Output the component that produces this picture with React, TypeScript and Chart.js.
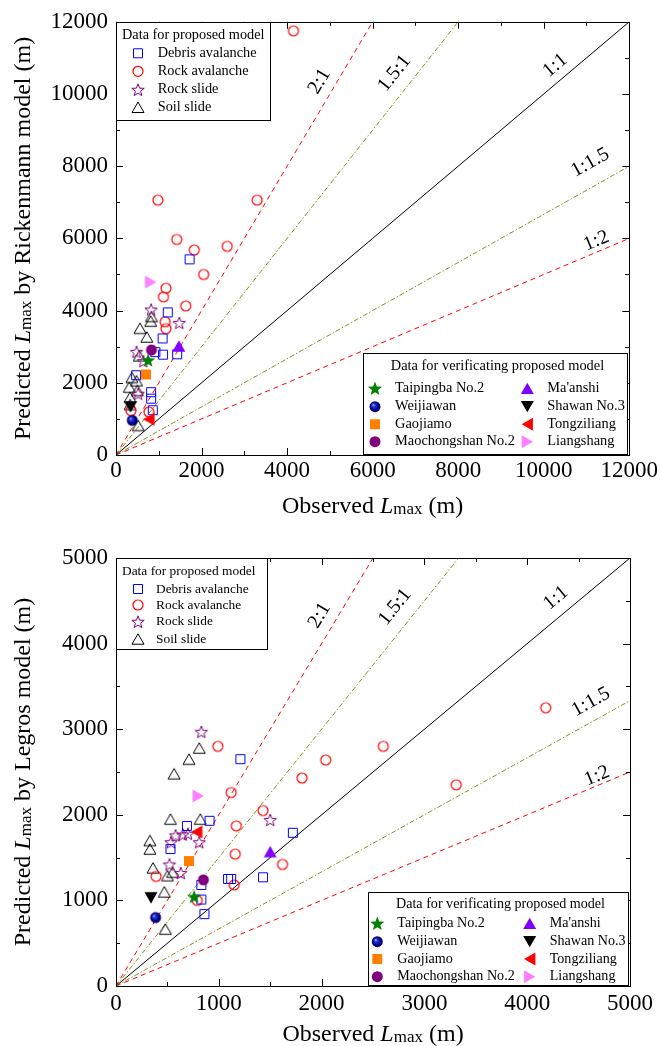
import React, { useEffect, useRef } from "react";
import { Chart, registerables } from "chart.js";

Chart.register(...registerables);

const FONT = "'Liberation Serif', 'Times New Roman', Times, serif";

type Pt = [number, number];

// ---------- names ----------
const proposedNames = ["Debris avalanche", "Rock avalanche", "Rock slide", "Soil slide"];
const verifyNames = [
  "Taipingba No.2",
  "Weijiawan",
  "Gaojiamo",
  "Maochongshan No.2",
  "Ma'anshi",
  "Shawan No.3",
  "Tongziliang",
  "Liangshang",
];
const ratioNames = ["2:1", "1.5:1", "1:1", "1:1.5", "1:2"];

// ---------- Rickenmann model (top chart) ----------
const rickAxisMax = 12000;
const rickTickStep = 2000;
const rickMinorStep = 1000;
const rickDebris: Pt[] = [
  [1720, 5420], [1210, 3950], [1090, 3230], [1100, 2780], [1430, 2790], [920, 2850],
  [820, 1740], [820, 1560], [860, 1240], [470, 2210],
];
const rickRockAval: Pt[] = [
  [4150, 11750], [980, 7060], [3300, 7060], [1420, 5970], [1830, 5680], [2600, 5780],
  [2050, 5000], [1170, 4620], [1110, 4380], [1630, 4130], [1150, 3690], [1170, 3500],
  [770, 1190], [350, 1230],
];
const rickRockSlide: Pt[] = [[820, 4030], [1480, 3660], [480, 2860], [640, 2600], [520, 1700]];
const rickSoilSlide: Pt[] = [
  [830, 3840], [810, 3710], [560, 3510], [720, 3270], [545, 2750], [370, 2150],
  [480, 2060], [310, 1880], [500, 1790], [330, 1600], [330, 1400], [520, 820],
];
// same order as verifyNames
const rickVerify: Pt[] = [
  [750, 2630], [380, 960], [700, 2230], [830, 2910], [1470, 3020], [340, 1330], [770, 990], [810, 4790],
];
const rickRatioEndX = [6000, 8000, 12000, 12000, 12000];
const rickRatioEndY = [12000, 12000, 12000, 8000, 6000];
const rickRatioLabelX = [4760, 6510, 10270, 11090, 11230];
const rickRatioLabelY = [10350, 10570, 10790, 8100, 5930];

// ---------- Legros model (bottom chart) ----------
const legAxisMax = 5000;
const legTickStep = 1000;
const legMinorStep = 500;
const legDebris: Pt[] = [
  [1210, 2650], [910, 1930], [690, 1870], [530, 1600], [1720, 1790], [1090, 1250],
  [1120, 1250], [1430, 1270], [830, 1180], [830, 1010], [860, 840],
];
const legRockAval: Pt[] = [
  [990, 2800], [2600, 2800], [2040, 2640], [1810, 2430], [1120, 2260], [1430, 2050],
  [1170, 1870], [1160, 1540], [1620, 1420], [1150, 1180], [390, 1280], [790, 1000],
  [4180, 3250], [3310, 2350],
];
const legRockSlide: Pt[] = [
  [830, 2970], [1500, 1940], [535, 1680], [580, 1760], [650, 1770], [700, 1780],
  [810, 1680], [520, 1420], [630, 1320],
];
const legSoilSlide: Pt[] = [
  [810, 2780], [710, 2650], [565, 2480], [530, 1950], [820, 1950], [330, 1700],
  [330, 1600], [360, 1380], [550, 1330], [500, 1290], [470, 1100], [480, 665],
];
const legVerify: Pt[] = [
  [760, 1045], [385, 800], [710, 1460], [850, 1240], [1500, 1570], [340, 1030], [785, 1800], [800, 2220],
];
const legRatioEndX = [2500, 3333.3, 5000, 5000, 5000];
const legRatioEndY = [5000, 5000, 5000, 3333.3, 2500];
const legRatioLabelX = [1981, 2714, 4280, 4621, 4679];
const legRatioLabelY = [4328, 4428, 4533, 3318, 2453];

// ---------- styles ----------
type Marker = { shape: string; size: number; stroke?: string; fill?: string; lw?: number };
const proposedMarkers: Marker[] = [
  { shape: "square", size: 9, stroke: "#0000ff" },
  { shape: "circle", size: 10, stroke: "#ff0000", lw: 1.2 },
  { shape: "star", size: 13, stroke: "#800080" },
  { shape: "triUp", size: 12, stroke: "#000000" },
];
const verifyMarkers: Marker[] = [
  { shape: "star", size: 15, fill: "#008000" },
  { shape: "sphere", size: 11 },
  { shape: "square", size: 10, fill: "#ff8000" },
  { shape: "circle", size: 11, fill: "#800080" },
  { shape: "triUp", size: 13, fill: "#8000ff" },
  { shape: "triDown", size: 13, fill: "#000000" },
  { shape: "triLeft", size: 13, fill: "#ff0000" },
  { shape: "triRight", size: 13, fill: "#ff80ff" },
];
const ratioColors = ["#ff0000", "#8f8f1f", "#000000", "#8f8f1f", "#ff0000"];
const ratioDashes = [[5, 4], [5, 2, 1.5, 2], [], [5, 2, 1.5, 2], [5, 4]];

function drawMarker(ctx: CanvasRenderingContext2D, m: Marker, cx: number, cy: number) {
  const s = m.size;
  ctx.save();
  ctx.translate(cx, cy);
  ctx.beginPath();
  if (m.shape === "square") {
    ctx.rect(-s / 2, -s / 2, s, s);
  } else if (m.shape === "circle" || m.shape === "sphere") {
    ctx.arc(0, 0, s / 2, 0, Math.PI * 2);
  } else if (m.shape === "star") {
    const R = s / 2;
    const r = R * 0.42;
    for (let i = 0; i < 10; i++) {
      const a = -Math.PI / 2 + (i * Math.PI) / 5;
      const rad = i % 2 ? r : R;
      const x = rad * Math.cos(a);
      const y = rad * Math.sin(a) + R * 0.1;
      if (i === 0) ctx.moveTo(x, y);
      else ctx.lineTo(x, y);
    }
    ctx.closePath();
  } else {
    const rot: Record<string, number> = { triUp: 0, triDown: Math.PI, triLeft: -Math.PI / 2, triRight: Math.PI / 2 };
    ctx.rotate(rot[m.shape] || 0);
    const h = s * 0.87;
    ctx.moveTo(0, -h / 2);
    ctx.lineTo(s / 2, h / 2);
    ctx.lineTo(-s / 2, h / 2);
    ctx.closePath();
  }
  if (m.shape === "sphere") {
    const r = s / 2;
    const g = ctx.createRadialGradient(-r * 0.35, -r * 0.35, 0, 0, 0, r);
    g.addColorStop(0, "#c8d0ff");
    g.addColorStop(0.25, "#3040d0");
    g.addColorStop(0.7, "#000098");
    g.addColorStop(1, "#000050");
    ctx.fillStyle = g;
    ctx.fill();
  } else if (m.fill) {
    ctx.fillStyle = m.fill;
    ctx.fill();
  }
  if (m.stroke) {
    ctx.strokeStyle = m.stroke;
    ctx.lineWidth = m.lw || 1;
    ctx.stroke();
  }
  ctx.restore();
}

function markerImage(m: Marker): HTMLCanvasElement {
  const c = document.createElement("canvas");
  c.width = 26;
  c.height = 26;
  const ctx = c.getContext("2d")!;
  drawMarker(ctx, m, 13, 13);
  return c;
}

type Part = { text: string; font: string; dy?: number };
function drawRich(ctx: CanvasRenderingContext2D, parts: Part[], cx: number, cy: number, rot: number) {
  ctx.save();
  ctx.translate(cx, cy);
  if (rot) ctx.rotate(rot);
  let total = 0;
  for (const p of parts) {
    ctx.font = p.font;
    total += ctx.measureText(p.text).width;
  }
  let x = -total / 2;
  ctx.textAlign = "left";
  ctx.textBaseline = "alphabetic";
  ctx.fillStyle = "#000";
  for (const p of parts) {
    ctx.font = p.font;
    ctx.fillText(p.text, x, p.dy || 0);
    x += ctx.measureText(p.text).width;
  }
  ctx.restore();
}

type Legend1 = { w: number; h: number; font: number; titleX: number; titleY: number; markX: number; textX: number; rowY: number[] };
type Legend2 = { w: number; h: number; font: number; titleY: number; rowY: number[]; colMark: number[]; colText: number[] };

type Spec = {
  max: number;
  step: number;
  minor: number;
  padTop: number;
  xAxisH: number;
  tickPadX: number;
  xTitleDy: number;
  modelName: string;
  series: Pt[][];
  verify: Pt[];
  ratioEndX: number[];
  ratioEndY: number[];
  ratioLabelX: number[];
  ratioLabelY: number[];
  legend1: Legend1;
  legend2: Legend2;
};

const TITLE_SIZE = 24;
const TICK_SIZE = 23;

function framePlugin(spec: Spec) {
  return {
    id: "frame",
    afterDraw(chart: any) {
      const ctx: CanvasRenderingContext2D = chart.ctx;
      const a = chart.chartArea;
      const xs = chart.scales.x;
      const ys = chart.scales.y;

      // ratio labels
      ctx.save();
      ctx.fillStyle = "#000";
      ctx.font = `20px ${FONT}`;
      ctx.textAlign = "center";
      ctx.textBaseline = "middle";
      ratioNames.forEach((name, i) => {
        const px = xs.getPixelForValue(spec.ratioLabelX[i]);
        const py = ys.getPixelForValue(spec.ratioLabelY[i]);
        const dx = xs.getPixelForValue(spec.ratioEndX[i]) - xs.getPixelForValue(0);
        const dy = ys.getPixelForValue(spec.ratioEndY[i]) - ys.getPixelForValue(0);
        ctx.save();
        ctx.translate(px, py);
        ctx.rotate(Math.atan2(dy, dx));
        ctx.fillText(name, 0, 0);
        ctx.restore();
      });
      ctx.restore();

      // frame
      ctx.save();
      ctx.strokeStyle = "#000";
      ctx.lineWidth = 1;
      ctx.strokeRect(Math.round(a.left) + 0.5, Math.round(a.top) + 0.5, Math.round(a.right - a.left), Math.round(a.bottom - a.top));
      ctx.beginPath();
      for (let v = 0; v <= spec.max + 0.1; v += spec.minor) {
        const major = Math.abs(v / spec.step - Math.round(v / spec.step)) < 1e-6;
        const L = major ? 7 : 4;
        const px = Math.round(xs.getPixelForValue(v)) + 0.5;
        const py = Math.round(ys.getPixelForValue(v)) + 0.5;
        ctx.moveTo(px, a.bottom);
        ctx.lineTo(px, a.bottom - L);
        ctx.moveTo(px, a.top);
        ctx.lineTo(px, a.top + L);
        ctx.moveTo(a.left, py);
        ctx.lineTo(a.left + L, py);
        ctx.moveTo(a.right, py);
        ctx.lineTo(a.right - L, py);
      }
      ctx.stroke();
      ctx.restore();

      // legend 1
      const L1 = spec.legend1;
      let x0 = Math.round(a.left);
      let y0 = Math.round(a.top);
      ctx.save();
      ctx.fillStyle = "#fff";
      ctx.fillRect(x0, y0, L1.w, L1.h);
      ctx.strokeStyle = "#000";
      ctx.lineWidth = 1;
      ctx.strokeRect(x0 + 0.5, y0 + 0.5, L1.w - 1, L1.h - 1);
      ctx.fillStyle = "#000";
      ctx.font = `${L1.font}px ${FONT}`;
      ctx.textAlign = "left";
      ctx.textBaseline = "middle";
      ctx.fillText("Data for proposed model", x0 + L1.titleX, y0 + L1.titleY);
      proposedNames.forEach((n, i) => {
        drawMarker(ctx, proposedMarkers[i], x0 + L1.markX, y0 + L1.rowY[i]);
        ctx.fillStyle = "#000";
        ctx.font = `${L1.font}px ${FONT}`;
        ctx.textAlign = "left";
        ctx.textBaseline = "middle";
        ctx.fillText(n, x0 + L1.textX, y0 + L1.rowY[i]);
      });
      ctx.restore();

      // legend 2
      const L2 = spec.legend2;
      x0 = Math.round(a.right) - 1 - L2.w;
      y0 = Math.round(a.bottom) - L2.h;
      ctx.save();
      ctx.fillStyle = "#fff";
      ctx.fillRect(x0, y0, L2.w, L2.h);
      ctx.strokeStyle = "#000";
      ctx.lineWidth = 1;
      ctx.strokeRect(x0 + 0.5, y0 + 0.5, L2.w - 1, L2.h - 1);
      ctx.fillStyle = "#000";
      ctx.font = `${L2.font}px ${FONT}`;
      ctx.textAlign = "center";
      ctx.textBaseline = "middle";
      ctx.fillText("Data for verificating proposed model", x0 + L2.w / 2 + 2, y0 + L2.titleY);
      verifyNames.forEach((n, i) => {
        const col = i < 4 ? 0 : 1;
        const row = i % 4;
        drawMarker(ctx, verifyMarkers[i], x0 + L2.colMark[col], y0 + L2.rowY[row]);
        ctx.fillStyle = "#000";
        ctx.font = `${L2.font}px ${FONT}`;
        ctx.textAlign = "left";
        ctx.textBaseline = "middle";
        ctx.fillText(n, x0 + L2.colText[col], y0 + L2.rowY[row]);
      });
      ctx.restore();

      // axis titles
      const big = `${TITLE_SIZE}px ${FONT}`;
      const ital = `italic ${TITLE_SIZE}px ${FONT}`;
      const small = `${Math.round(TITLE_SIZE * 0.7)}px ${FONT}`;
      drawRich(
        ctx,
        [
          { text: "Observed ", font: big },
          { text: "L", font: ital },
          { text: "max", font: small, dy: 1 },
          { text: " (m)", font: big },
        ],
        (a.left + a.right) / 2,
        a.bottom + spec.xTitleDy,
        0
      );
      drawRich(
        ctx,
        [
          { text: "Predicted ", font: big },
          { text: "L", font: ital },
          { text: "max", font: small, dy: 1 },
          { text: ` by ${spec.modelName} model (m)`, font: big },
        ],
        30,
        (a.top + a.bottom) / 2,
        -Math.PI / 2
      );
    },
  };
}

function buildConfig(spec: Spec): any {
  const datasets: any[] = [];
  spec.series.forEach((pts, i) => {
    datasets.push({
      label: proposedNames[i],
      data: pts.map(([x, y]) => ({ x, y })),
      pointStyle: markerImage(proposedMarkers[i]),
      pointRadius: 5,
      pointHoverRadius: 5,
      showLine: false,
      order: 2,
    });
  });
  spec.verify.forEach(([x, y], i) => {
    datasets.push({
      label: verifyNames[i],
      data: [{ x, y }],
      pointStyle: markerImage(verifyMarkers[i]),
      pointRadius: 5,
      pointHoverRadius: 5,
      showLine: false,
      order: 1,
    });
  });
  ratioNames.forEach((name, i) => {
    datasets.push({
      label: name,
      data: [
        { x: 0, y: 0 },
        { x: spec.ratioEndX[i], y: spec.ratioEndY[i] },
      ],
      showLine: true,
      borderColor: ratioColors[i],
      borderWidth: 1,
      borderDash: ratioDashes[i],
      pointRadius: 0,
      fill: false,
      order: 5,
    });
  });

  const tickFont = { family: FONT, size: TICK_SIZE };
  return {
    type: "scatter",
    data: { datasets },
    options: {
      responsive: false,
      animation: false,
      events: [],
      layout: { padding: { left: 0, top: spec.padTop, right: 30, bottom: 0 } },
      plugins: { legend: { display: false }, tooltip: { enabled: false } },
      scales: {
        x: {
          type: "linear",
          min: 0,
          max: spec.max,
          ticks: {
            stepSize: spec.step,
            font: tickFont,
            color: "#000",
            padding: spec.tickPadX,
            maxRotation: 0,
            autoSkip: false,
            callback: (v: any) => String(v),
          },
          grid: { display: false, drawTicks: false },
          border: { display: false },
          afterFit: (s: any) => {
            s.height = spec.xAxisH;
          },
        },
        y: {
          type: "linear",
          min: 0,
          max: spec.max,
          ticks: {
            stepSize: spec.step,
            font: tickFont,
            color: "#000",
            padding: 8,
            autoSkip: false,
            callback: (v: any) => String(v),
          },
          grid: { display: false, drawTicks: false },
          border: { display: false },
          afterFit: (s: any) => {
            s.width = 116;
          },
        },
      },
    },
    plugins: [framePlugin(spec)],
  };
}

const topSpec: Spec = {
  max: rickAxisMax,
  step: rickTickStep,
  minor: rickMinorStep,
  padTop: 18,
  xAxisH: 68,
  tickPadX: 2,
  xTitleDy: 58,
  modelName: "Rickenmann",
  series: [rickDebris, rickRockAval, rickRockSlide, rickSoilSlide],
  verify: rickVerify,
  ratioEndX: rickRatioEndX,
  ratioEndY: rickRatioEndY,
  ratioLabelX: rickRatioLabelX,
  ratioLabelY: rickRatioLabelY,
  legend1: { w: 155, h: 99, font: 14.3, titleX: 6, titleY: 13.7, markX: 22, textX: 41.7, rowY: [31.3, 49.3, 67.7, 85.3] },
  legend2: { w: 265, h: 102, font: 14.4, titleY: 13.7, rowY: [35.3, 53.7, 71.3, 88.7], colMark: [12, 164.3], colText: [32, 184.3] },
};

const bottomSpec: Spec = {
  max: legAxisMax,
  step: legTickStep,
  minor: legMinorStep,
  padTop: 35,
  xAxisH: 60,
  tickPadX: 4,
  xTitleDy: 55,
  modelName: "Legros",
  series: [legDebris, legRockAval, legRockSlide, legSoilSlide],
  verify: legVerify,
  ratioEndX: legRatioEndX,
  ratioEndY: legRatioEndY,
  ratioLabelX: legRatioLabelX,
  ratioLabelY: legRatioLabelY,
  legend1: { w: 152, h: 92, font: 13.4, titleX: 6, titleY: 13.7, markX: 22, textX: 40, rowY: [31, 47, 63.7, 81] },
  legend2: { w: 261, h: 94, font: 14.1, titleY: 12, rowY: [31.3, 49.7, 67, 84.7], colMark: [9.3, 161.7], colText: [29.3, 181.7] },
};

function ChartPanel({ spec }: { spec: Spec }) {
  const ref = useRef<HTMLCanvasElement>(null);
  useEffect(() => {
    if (!ref.current) return;
    const chart = new Chart(ref.current, buildConfig(spec));
    return () => chart.destroy();
  }, [spec]);
  return <canvas ref={ref} width={660} height={523} style={{ display: "block", width: 660, height: 523 }} />;
}

export default function App() {
  return (
    <div style={{ position: "absolute", left: 0, top: 0, width: 660, height: 1046, background: "#fff" }}>
      <ChartPanel spec={topSpec} />
      <ChartPanel spec={bottomSpec} />
    </div>
  );
}
